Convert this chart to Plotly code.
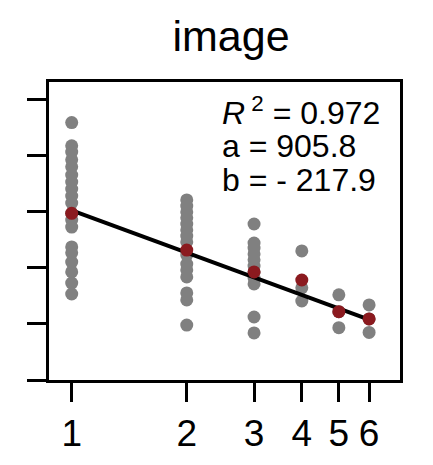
import plotly.graph_objects as go
import math

# Data
x_groups = [1, 2, 3, 4, 5, 6]
values_1 = [1219, 1136, 1114, 1086, 1061, 1032, 1007, 982, 957, 932, 895, 871, 846, 775, 754, 721, 686, 646, 607]
values_2 = [943, 921, 900, 879, 857, 836, 814, 793, 746, 714, 693, 668, 611, 586, 496]
values_3 = [857, 789, 771, 750, 729, 707, 686, 664, 643, 525, 468]
values_4 = [761, 629, 582]
values_5 = [604, 544, 487]
values_6 = [568, 518, 470]
group_means = [895, 764, 686, 657, 544, 518]
fit_a = 905.8
fit_b = -217.9
r_squared = 0.972
x_ticks = [1, 2, 3, 4, 5, 6]
y_ticks = [300, 500, 700, 900, 1100, 1300]

all_values = [values_1, values_2, values_3, values_4, values_5, values_6]
gx, gy = [], []
for xv, vals in zip(x_groups, all_values):
    gx += [xv] * len(vals)
    gy += vals

fit_x = [x_groups[0], x_groups[-1]]
fit_y = [fit_a + fit_b * math.log(v) for v in fit_x]

FONT = "Arial, 'Liberation Sans', Helvetica, sans-serif"

fig = go.Figure()
fig.add_trace(go.Scatter(x=gx, y=gy, mode="markers",
                         marker=dict(color="#808080", size=13, line=dict(width=0)),
                         showlegend=False, hoverinfo="skip"))
fig.add_trace(go.Scatter(x=fit_x, y=fit_y, mode="lines",
                         line=dict(color="black", width=4), showlegend=False))
fig.add_trace(go.Scatter(x=x_groups, y=group_means, mode="markers",
                         marker=dict(color="#8b1a1f", size=13, line=dict(width=0)),
                         showlegend=False))

fig.update_layout(
    width=433, height=465,
    margin=dict(l=49, r=33, t=82, b=85),
    paper_bgcolor="white", plot_bgcolor="white",
    font=dict(family=FONT, color="black"),
    title=dict(text="image", x=231/433, xanchor="center", xref="container",
               y=1 - 36/465, yanchor="middle", yref="container",
               font=dict(size=43, family=FONT, color="black")),
)
fig.update_xaxes(type="log", range=[-0.0594, 0.859],
                 tickvals=x_ticks, ticktext=[str(t) for t in x_ticks],
                 ticks="outside", ticklen=19, tickwidth=3, tickcolor="black",
                 showline=True, linewidth=3, linecolor="black", mirror=True,
                 showgrid=False, zeroline=False,
                 tickfont=dict(size=37, family=FONT, color="black"))
fig.update_yaxes(range=[300, 1364], tickvals=y_ticks, showticklabels=False,
                 ticks="outside", ticklen=19, tickwidth=3, tickcolor="black",
                 showline=True, linewidth=3, linecolor="black", mirror=True,
                 showgrid=False, zeroline=False)

lines = [f"<i>R</i><sup> 2</sup> = {r_squared}", f"a = {fit_a}", f"b = - {abs(fit_b)}"]
ys = [0.903, 0.785, 0.671]
for t, yy in zip(lines, ys):
    fig.add_annotation(text=t, x=(220-49)/351, y=yy, xref="paper", yref="paper",
                       xanchor="left", yanchor="middle", showarrow=False,
                       font=dict(size=32, family=FONT, color="black"))

fig.write_html("out.html", config={"displayModeBar": False},
               post_script="document.body.style.margin='0';document.body.style.overflow='hidden';")
